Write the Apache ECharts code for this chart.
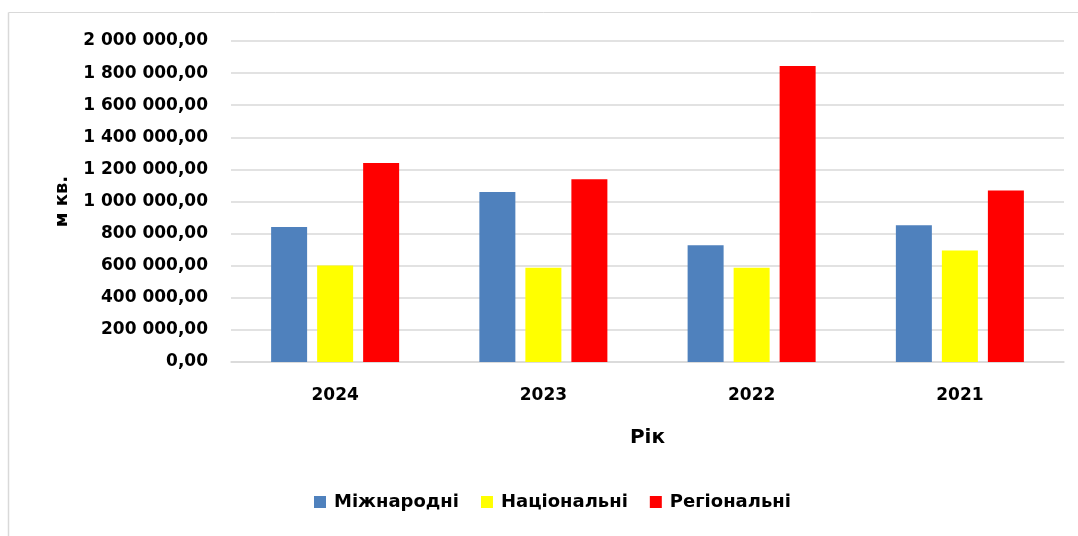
<!DOCTYPE html>
<html>
<head>
<meta charset="utf-8">
<script src="https://cdn.jsdelivr.net/npm/echarts@6/dist/echarts.min.js"></script>
<style>html,body{margin:0;padding:0;background:#fff}#c{width:1078px;height:536px}</style>
</head>
<body>
<div id="c"></div>
<script>
const categories = ['2024', '2023', '2022', '2021'];
const seriesNames = ['Міжнародні', 'Національні', 'Регіональні'];
const mizhnarodni = [841000, 1059000, 727000, 852000];
const natsionalni = [600500, 588000, 588000, 694000];
const rehionalni = [1240000, 1138000, 1844000, 1068000];
const colors = ['#4f81bd', '#ffff00', '#ff0000'];
const yTickMax = 2000000;
const yTickStep = 200000;
const yTitle = 'м кв.';
const xTitle = 'Рік';

const FONT = 'DejaVu Sans';
function fmt(v) {
  const s = Math.round(v).toString().replace(/\B(?=(\d{3})+(?!\d))/g, ' ');
  return s + ',00';
}
const chart = echarts.init(document.getElementById('c'), null, {renderer: 'canvas'});
const values = [mizhnarodni, natsionalni, rehionalni];
chart.setOption({
  animation: false,
  textStyle: {fontFamily: FONT},
  graphic: [
    {type: 'line', shape: {x1: 8.5, y1: 12.5, x2: 1078, y2: 12.5}, style: {stroke: '#d9d9d9', lineWidth: 1}},
    {type: 'line', shape: {x1: 8.5, y1: 12.5, x2: 8.5, y2: 536}, style: {stroke: '#d9d9d9', lineWidth: 1.5}}
  ],
  grid: {left: 231, right: 14, top: 41, bottom: 174, containLabel: false},
  legend: {
    left: 314, top: 493, padding: 0, itemWidth: 12, itemHeight: 12, itemGap: 22,
    icon: 'rect',
    textStyle: {fontFamily: FONT, fontWeight: 'bold', fontSize: 18, color: '#000', padding: [0, 0, 0, 3]},
    data: seriesNames
  },
  xAxis: {
    type: 'category', data: categories,
    name: xTitle, nameLocation: 'middle', nameGap: 66,
    nameTextStyle: {fontFamily: FONT, fontWeight: 'bold', fontSize: 20, color: '#000'},
    axisLine: {show: true, lineStyle: {color: '#d9d9d9', width: 1.5}},
    axisTick: {show: false},
    axisLabel: {fontFamily: FONT, fontWeight: 'bold', fontSize: 17, color: '#000', margin: 25}
  },
  yAxis: {
    type: 'value', min: 0, max: yTickMax, interval: yTickStep,
    name: yTitle, nameLocation: 'middle', nameGap: 160, nameRotate: 90,
    nameTextStyle: {fontFamily: FONT, fontWeight: 'bold', fontSize: 18, color: '#000'},
    axisLine: {show: false}, axisTick: {show: false},
    splitLine: {lineStyle: {color: '#d9d9d9', width: 1.5}},
    axisLabel: {fontFamily: FONT, fontWeight: 'bold', fontSize: 17, color: '#000', margin: 23, formatter: fmt}
  },
  series: seriesNames.map((n, i) => ({
    name: n, type: 'bar', data: values[i], barWidth: 36, barGap: '27.8%',
    itemStyle: {color: colors[i]}
  }))
});
</script>
</body>
</html>
